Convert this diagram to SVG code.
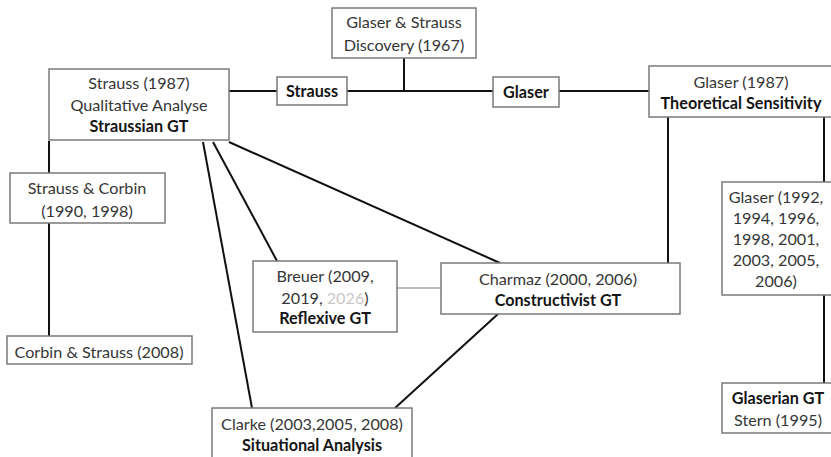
<svg xmlns="http://www.w3.org/2000/svg" width="831" height="457" viewBox="0 0 831 457">
  <style>
    .box { fill: #ffffff; stroke: #7a7a7a; stroke-width: 1.5; }
    .link { stroke: #111111; stroke-width: 2; fill: none; }
    .thin { stroke: #7a7a7a; stroke-width: 1.2; fill: none; }
    text { font-family: Lato, "Open Sans", "Liberation Sans", sans-serif; font-size: 16.2px; text-anchor: middle; fill: #363636; }
    .b { font-weight: bold; fill: #151515; }
    .faint { fill: #c8c8c8; }
  </style>
  <rect width="831" height="457" fill="#ffffff"/>

  <g id="connectors">
    <!-- Discovery split into the two branches -->
    <line class="link" x1="404" y1="58" x2="404" y2="91"/>
    <line class="link" x1="229" y1="91" x2="277" y2="91"/>
    <line class="link" x1="347" y1="91" x2="493" y2="91"/>
    <line class="link" x1="559" y1="91" x2="649" y2="91"/>
    <!-- Straussian lineage -->
    <line class="link" x1="49" y1="141" x2="49" y2="173"/>
    <line class="link" x1="49" y1="223" x2="49" y2="336"/>
    <line class="link" x1="203" y1="142" x2="252" y2="408"/>
    <line class="link" x1="213" y1="142" x2="277" y2="261"/>
    <line class="link" x1="229" y1="142" x2="500" y2="263"/>
    <!-- Glaserian lineage -->
    <line class="link" x1="668" y1="117" x2="668" y2="263"/>
    <line class="link" x1="824" y1="117" x2="824" y2="182"/>
    <line class="link" x1="824" y1="295" x2="824" y2="383"/>
    <!-- Charmaz to Clarke, Breuer to Charmaz -->
    <line class="link" x1="498" y1="314" x2="395" y2="408"/>
    <line class="thin" x1="397" y1="288" x2="441" y2="288"/>
  </g>

  <g id="discovery">
    <rect class="box" x="332" y="8" width="144" height="50"/>
    <text x="404" y="27.5">Glaser &amp; Strauss</text>
    <text x="404" y="50.5">Discovery (1967)</text>
  </g>

  <g id="strauss1987">
    <rect class="box" x="49" y="69" width="180" height="71"/>
    <text x="139" y="89">Strauss (1987)</text>
    <text x="139" y="110.5">Qualitative Analyse</text>
    <text class="b" x="139" y="132">Straussian GT</text>
  </g>

  <g id="strauss-label">
    <rect class="box" x="277" y="77" width="70" height="28"/>
    <text class="b" x="312" y="96.5">Strauss</text>
  </g>

  <g id="glaser-label">
    <rect class="box" x="493" y="77" width="66" height="30"/>
    <text class="b" x="526" y="97.5">Glaser</text>
  </g>

  <g id="glaser1987">
    <rect class="box" x="649" y="66" width="186" height="51"/>
    <text x="741" y="87.5">Glaser (1987)</text>
    <text class="b" x="741" y="108.5">Theoretical Sensitivity</text>
  </g>

  <g id="glaser1992">
    <rect class="box" x="722" y="182" width="113" height="113"/>
    <text x="776" y="202.5">Glaser (1992,</text>
    <text x="776" y="223.5">1994, 1996,</text>
    <text x="776" y="244.5">1998, 2001,</text>
    <text x="776" y="265.5">2003, 2005,</text>
    <text x="776" y="287">2006)</text>
  </g>

  <g id="glaserian">
    <rect class="box" x="722" y="383" width="113" height="50"/>
    <text class="b" x="778" y="403.5">Glaserian GT</text>
    <text x="778" y="425.5">Stern (1995)</text>
  </g>

  <g id="strauss-corbin">
    <rect class="box" x="10" y="173" width="155" height="50"/>
    <text x="87" y="193.5">Strauss &amp; Corbin</text>
    <text x="87" y="216.5">(1990, 1998)</text>
  </g>

  <g id="corbin-strauss">
    <rect class="box" x="7" y="336" width="185" height="28"/>
    <text x="99" y="357.5">Corbin &amp; Strauss (2008)</text>
  </g>

  <g id="breuer">
    <rect class="box" x="253" y="261" width="144" height="71"/>
    <text x="325" y="281.5">Breuer (2009,</text>
    <text x="325" y="303.5">2019, <tspan class="faint">2026</tspan>)</text>
    <text class="b" x="325" y="324">Reflexive GT</text>
  </g>

  <g id="charmaz">
    <rect class="box" x="441" y="263" width="239" height="51"/>
    <text x="558" y="284.5">Charmaz (2000, 2006)</text>
    <text class="b" x="558" y="305.5">Constructivist GT</text>
  </g>

  <g id="clarke">
    <rect class="box" x="212" y="408" width="200" height="60"/>
    <text x="312" y="429.5">Clarke (2003,2005, 2008)</text>
    <text class="b" x="312" y="450.5">Situational Analysis</text>
  </g>
</svg>
